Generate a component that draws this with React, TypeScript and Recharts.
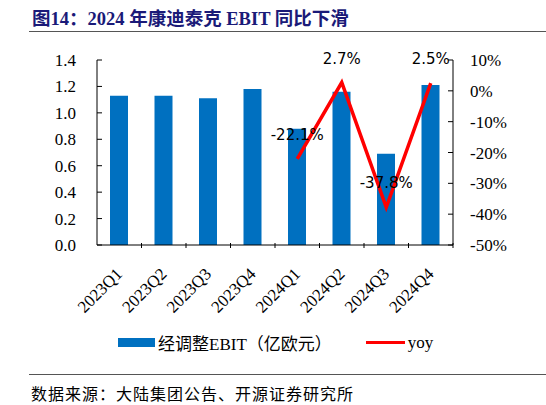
import { ComposedChart, Bar, Line, XAxis, YAxis, Legend, LabelList } from 'recharts';

// 季度、经调整EBIT（亿欧元）与同比
const quarters = ['2023Q1', '2023Q2', '2023Q3', '2023Q4', '2024Q1', '2024Q2', '2024Q3', '2024Q4'];
const ebit = [1.13, 1.13, 1.11, 1.18, 0.88, 1.16, 0.69, 1.21];
const yoy = [null, null, null, null, -22.1, 2.7, -37.8, 2.5];
const leftTicks = [0, 0.2, 0.4, 0.6, 0.8, 1.0, 1.2, 1.4];
const rightTicks = [-50, -40, -30, -20, -10, 0, 10];

const data = quarters.map((q, i) => ({ q, ebit: ebit[i], yoy: yoy[i] }));

const SERIF = "'Liberation Serif', 'Times New Roman', 'Noto Sans CJK SC', serif";
const CJK = "'Liberation Serif', 'Noto Sans CJK SC', serif";

// x 轴标签旋转 -45°，刻度线放在分类边界、朝上
function XTick(props: any) {
  const { x, y, payload } = props;
  const half = payload.offset || 0;
  return (
    <g>
      <line x1={x + half} y1={y - 5} x2={x + half} y2={y - 10} stroke="#000" />
      <text
        x={x + 4}
        y={y + 22}
        textAnchor="end"
        transform={`rotate(-45, ${x + 4}, ${y + 22})`}
        fontFamily={SERIF}
        fontSize={17}
        fill="#000"
      >
        {payload.value}
      </text>
    </g>
  );
}

function YoyLabel(props: any) {
  const { x, y, value } = props;
  if (value == null) return null;
  return (
    <text x={x} y={y - 19} textAnchor="middle" fontFamily="'DejaVu Sans', sans-serif" fontSize={15} fill="#000">
      {`${value.toFixed(1)}%`}
    </text>
  );
}

function LegendBox(props: any) {
  // 柱在前，线在后
  const items = [...(props.payload || [])].sort((a: any, b: any) => (a.type === 'line' ? 1 : 0) - (b.type === 'line' ? 1 : 0));
  return (
    <div style={{ display: 'flex', alignItems: 'center', fontFamily: CJK, fontSize: 17, color: '#000' }}>
      {items.map((p: any) => (
        <div key={p.value} style={{ display: 'flex', alignItems: 'center', marginLeft: p.type === 'line' ? 34 : 118 }}>
          {p.type === 'line' ? (
            <span style={{ display: 'inline-block', width: 39, height: 3, background: '#FF0000' }} />
          ) : (
            <span style={{ display: 'inline-block', width: 37, height: 9, background: '#0070C0' }} />
          )}
          <span style={{ marginLeft: 3 }}>{p.value}</span>
        </div>
      ))}
    </div>
  );
}

export default function App() {
  return (
    <div style={{ position: 'absolute', left: 0, top: 0, width: 546, height: 405, background: '#fff', overflow: 'hidden' }}>
      <div
        style={{
          position: 'absolute',
          left: 32,
          top: 4,
          fontFamily: CJK,
          fontWeight: 'bold',
          fontSize: 18.5,
          color: '#1A1A78',
          whiteSpace: 'nowrap',
        }}
      >
        图14：2024 年康迪泰克 EBIT 同比下滑
      </div>
      <div style={{ position: 'absolute', left: 29, top: 31, width: 517, height: 1, background: '#555' }} />

      <ComposedChart
        width={546}
        height={405}
        data={data}
        margin={{ top: 60, right: 0, bottom: 90, left: 0 }}
        barCategoryGap="30%"
      >
        <XAxis
          dataKey="q"
          interval={0}
          height={70}
          axisLine={{ stroke: '#000' }}
          tickLine={false}
          tick={<XTick />}
        />
        <YAxis
          yAxisId="l"
          width={97}
          domain={[0, 1.4]}
          ticks={leftTicks}
          tickFormatter={(v: number) => v.toFixed(1)}
          axisLine={{ stroke: '#000' }}
          tickLine={{ stroke: '#000' }}
          tickSize={-5}
          tickMargin={26}
          tick={{ fontFamily: SERIF, fontSize: 17, fill: '#000' }}
        />
        <YAxis
          yAxisId="r"
          orientation="right"
          width={93}
          domain={[-50, 10]}
          ticks={rightTicks}
          tickFormatter={(v: number) => `${v}%`}
          axisLine={{ stroke: '#000' }}
          tickLine={{ stroke: '#000' }}
          tickSize={-5}
          tickMargin={22}
          tick={{ fontFamily: SERIF, fontSize: 17, fill: '#000' }}
        />
        <Legend
          layout="horizontal"
          verticalAlign="middle"
          align="center"
          wrapperStyle={{ top: 330, left: 0, width: 546 }}
          content={<LegendBox />}
        />
        <Bar
          yAxisId="l"
          dataKey="ebit"
          name="经调整EBIT（亿欧元）"
          fill="#0070C0"
          barSize={18}
          legendType="rect"
          isAnimationActive={false}
        />
        <Line
          yAxisId="r"
          dataKey="yoy"
          name="yoy"
          stroke="#FF0000"
          strokeWidth={3.5}
          dot={false}
          legendType="line"
          isAnimationActive={false}
        >
          <LabelList dataKey="yoy" content={<YoyLabel />} />
        </Line>
      </ComposedChart>

      <div style={{ position: 'absolute', left: 29, top: 374, width: 517, height: 1, background: '#555' }} />
      <div
        style={{
          position: 'absolute',
          left: 31,
          top: 381,
          fontFamily: CJK,
          fontSize: 16,
          color: '#000',
          whiteSpace: 'nowrap',
          letterSpacing: 1,
        }}
      >
        数据来源：大陆集团公告、开源证券研究所
      </div>
    </div>
  );
}
